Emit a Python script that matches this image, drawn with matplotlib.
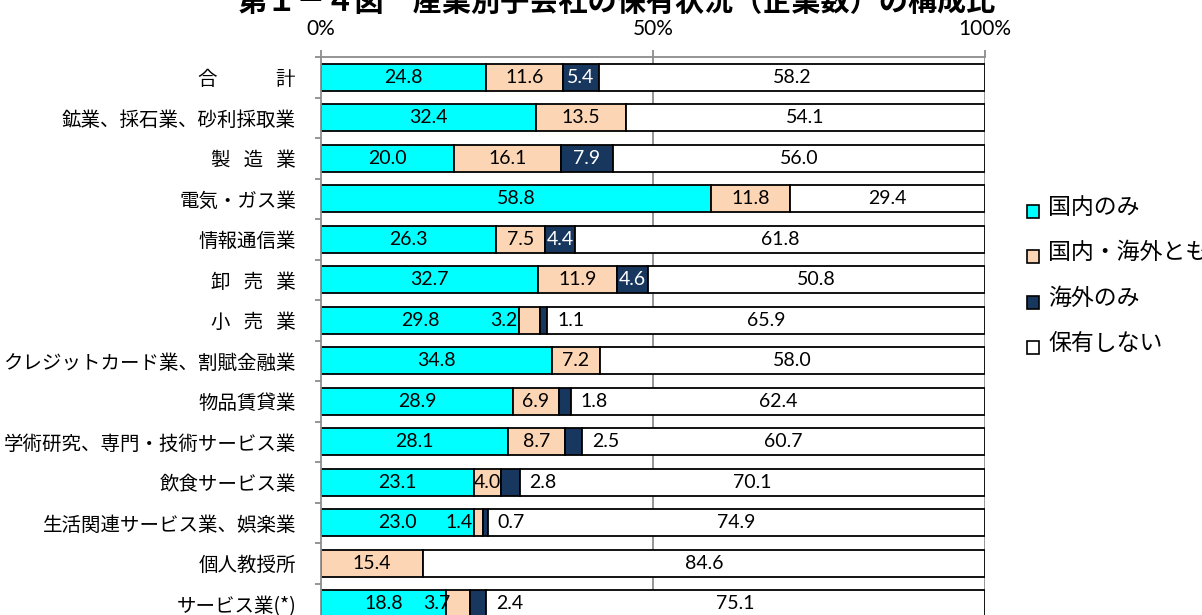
import matplotlib
matplotlib.use("Agg")
import matplotlib.pyplot as plt
from matplotlib.patches import Rectangle
import numpy as np

# categories (top to bottom) and shares (%)
categories = ["合　　　計", "鉱業、採石業、砂利採取業", "製   造   業", "電気・ガス業",
              "情報通信業", "卸   売   業", "小   売   業", "クレジットカード業、割賦金融業",
              "物品賃貸業", "学術研究、専門・技術サービス業", "飲食サービス業",
              "生活関連サービス業、娯楽業", "個人教授所", "サービス業(*)"]
domestic_only = [24.8, 32.4, 20.0, 58.8, 26.3, 32.7, 29.8, 34.8, 28.9, 28.1, 23.1, 23.0, 0.0, 18.8]
both = [11.6, 13.5, 16.1, 11.8, 7.5, 11.9, 3.2, 7.2, 6.9, 8.7, 4.0, 1.4, 15.4, 3.7]
overseas_only = [5.4, 0.0, 7.9, 0.0, 4.4, 4.6, 1.1, 0.0, 1.8, 2.5, 2.8, 0.7, 0.0, 2.4]
none = [58.2, 54.1, 56.0, 29.4, 61.8, 50.8, 65.9, 58.0, 62.4, 60.7, 70.1, 74.9, 84.6, 75.1]

series_names = ["国内のみ", "国内・海外とも", "海外のみ", "保有しない"]
series_colors = ["#00FFFF", "#FCD5B4", "#17375E", "#FFFFFF"]
ticks = [0, 50, 100]
tick_labels = ["0%", "50%", "100%"]
title = "第１－４図　産業別子会社の保有状況（企業数）の構成比"

cjk = ["Noto Sans CJK JP", "DejaVu Sans"]
num_font = ["Lato", "DejaVu Sans"]

W, H = 1202, 615
fig = plt.figure(figsize=(W / 100, H / 100), dpi=100)
fig.patch.set_facecolor("white")
ax = fig.add_axes([321 / W, 1 - 624 / H, 664 / W, 567 / H])

data = np.array([domestic_only, both, overseas_only, none])
y = np.arange(len(categories))
lefts = np.zeros(len(categories))
for k in range(4):
    ax.barh(y, data[k], left=lefts, height=0.67, color=series_colors[k],
            edgecolor="black", linewidth=1.3, zorder=3)
    for i in range(len(categories)):
        v = data[k][i]
        if v == 0:
            continue
        txt = f"{v:.1f}"
        col = "white" if (k == 2 and v >= 4) else "black"
        if k == 1 and v < 4:
            # small peach segment: label sits just before it
            ax.annotate(txt, xy=(lefts[i], y[i]), xytext=(3 if v > 3.5 else -1, 0),
                        textcoords="offset points", ha="right", va="center",
                        fontsize=14, family=num_font, color=col, zorder=5)
        elif k == 2 and v < 4:
            ax.annotate(txt, xy=(lefts[i] + v, y[i]), xytext=(7, 0),
                        textcoords="offset points", ha="left", va="center",
                        fontsize=14, family=num_font, color=col, zorder=5)
        else:
            ax.text(lefts[i] + v / 2, y[i], txt, ha="center", va="center",
                    fontsize=14, family=num_font, color=col, zorder=5)
    lefts = lefts + data[k]

ax.set_xlim(0, 100)
ax.set_ylim(len(categories) - 0.5, -0.5)
ax.xaxis.tick_top()
ax.set_xticks(ticks)
ax.set_xticklabels(tick_labels, fontsize=15, family=num_font)
ax.tick_params(axis="x", length=5, width=1.3, color="#8c8c8c", pad=8)
ax.set_yticks(y)
ax.set_yticklabels(categories, fontsize=14, family=cjk)
ax.tick_params(axis="y", length=0, pad=18)
ax.set_yticks(np.arange(len(categories) + 1) - 0.5, minor=True)
ax.tick_params(axis="y", which="minor", length=4, width=1.3, color="#8c8c8c")
for x in [50, 100]:
    ax.axvline(x, color="#8c8c8c", linewidth=1.3, zorder=1)
for s in ["bottom", "right"]:
    ax.spines[s].set_visible(False)
for s in ["top", "left"]:
    ax.spines[s].set_color("#8c8c8c")
    ax.spines[s].set_linewidth(1.3)
    ax.spines[s].set_zorder(4)

# legend drawn by hand at the right
leg_y = [207, 252, 298, 343]
for name, c, ly in zip(series_names, series_colors, leg_y):
    fig.patches.append(Rectangle((1027 / W, 1 - (ly + 11) / H), 12 / W, 13 / H,
                                 transform=fig.transFigure, facecolor=c,
                                 edgecolor="black", linewidth=1.2))
    fig.text(1048 / W, 1 - ly / H, name, fontsize=16.5, family=cjk, ha="left", va="center")

fig.text(617 / W, 1 - 11 / H, title, fontsize=21, fontweight="bold", family=cjk,
         ha="center", va="baseline")

fig.savefig("out.png", dpi=100)
